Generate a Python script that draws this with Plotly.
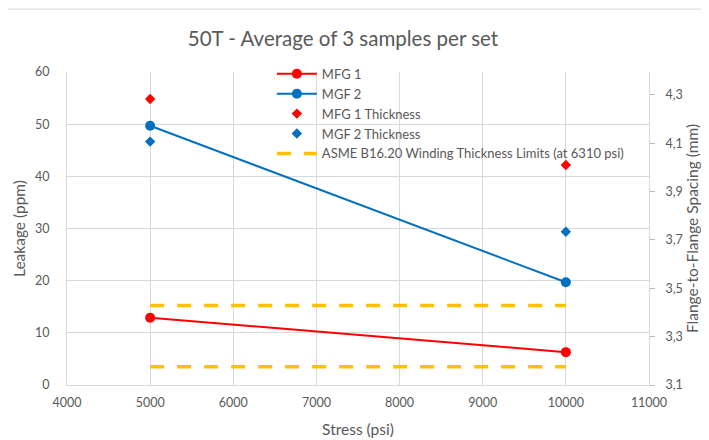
import plotly.graph_objects as go

stress = [5000, 10000]
mfg1_leak = [12.9, 6.3]
mgf2_leak = [49.7, 19.7]
mfg1_thick = [4.283, 4.01]
mgf2_thick = [4.107, 3.734]
asme_low = 3.175
asme_high = 3.429

grey = "#595959"
font = "Lato, 'Open Sans', sans-serif"

fig = go.Figure()
fig.add_trace(go.Scatter(x=stress, y=mfg1_leak, mode="lines+markers", name="MFG 1",
                         line=dict(color="#FF0000", width=2), marker=dict(size=10, color="#FF0000")))
fig.add_trace(go.Scatter(x=stress, y=mgf2_leak, mode="lines+markers", name="MGF 2",
                         line=dict(color="#0070C0", width=2), marker=dict(size=10, color="#0070C0")))
fig.add_trace(go.Scatter(x=stress, y=mfg1_thick, mode="markers", name="MFG 1 Thickness", yaxis="y2",
                         marker=dict(symbol="diamond", size=8, color="#FF0000")))
fig.add_trace(go.Scatter(x=stress, y=mgf2_thick, mode="markers", name="MGF 2 Thickness", yaxis="y2",
                         marker=dict(symbol="diamond", size=8, color="#0070C0")))
fig.add_trace(go.Scatter(x=[stress[0], stress[1], None, stress[0], stress[1]],
                         y=[asme_high, asme_high, None, asme_low, asme_low],
                         mode="lines", name="ASME B16.20 Winding Thickness Limits (at 6310 psi)", yaxis="y2",
                         line=dict(color="#FFC000", width=3.5, dash="14px,13px")))

fig.update_layout(
    width=709, height=440,
    margin=dict(l=59, r=68, t=64, b=63),
    paper_bgcolor="white", plot_bgcolor="white",
    separators=",.",
    font=dict(family=font, color=grey, size=12),
    title=dict(text="50T - Average of 3 samples per set", x=0.4725, xanchor="center", y=0.93, yanchor="middle",
               font=dict(size=20.5, color=grey, family=font)),
    showlegend=True,
    legend=dict(x=0.352, y=1.042, xanchor="left", yanchor="top", bgcolor="rgba(255,255,255,0)",
                font=dict(size=13, color=grey, family=font), itemwidth=40, tracegroupgap=0),
    xaxis=dict(range=[4000, 11000], dtick=1000, tick0=4000, tickformat="d", showgrid=True, gridcolor="#d9d9d9",
               showline=True, linecolor="#d9d9d9", zeroline=False, ticks="", ticklabelstandoff=6,
               tickfont=dict(size=12.5, color=grey),
               title=dict(text="Stress (psi)", font=dict(size=15.5, color=grey), standoff=15)),
    yaxis=dict(range=[0, 60], dtick=10, tick0=0, showgrid=True, gridcolor="#d9d9d9",
               showline=True, linecolor="#d9d9d9", zeroline=False, ticks="", ticklabelstandoff=14,
               tickfont=dict(size=12.5, color=grey),
               title=dict(text="Leakage (ppm)", font=dict(size=15.5, color=grey), standoff=5)),
    yaxis2=dict(overlaying="y", side="right", range=[3.1, 4.395], tick0=3.1, dtick=0.2,
                tickformat=".1f", showgrid=False, zeroline=False, showline=True, linecolor="#d9d9d9",
                ticks="outside", ticklen=5, tickcolor="#bfbfbf", ticklabelstandoff=8,
                tickfont=dict(size=12.5, color=grey),
                title=dict(text="Flange-to-Flange Spacing (mm)", font=dict(size=15.5, color=grey), standoff=5)),
    shapes=[dict(type="rect", xref="paper", yref="paper", x0=-0.108, x1=1.2, y0=-0.3, y1=1.201,
                 line=dict(color="#d9d9d9", width=1), layer="below")],
)

fig.write_html("out.html")
